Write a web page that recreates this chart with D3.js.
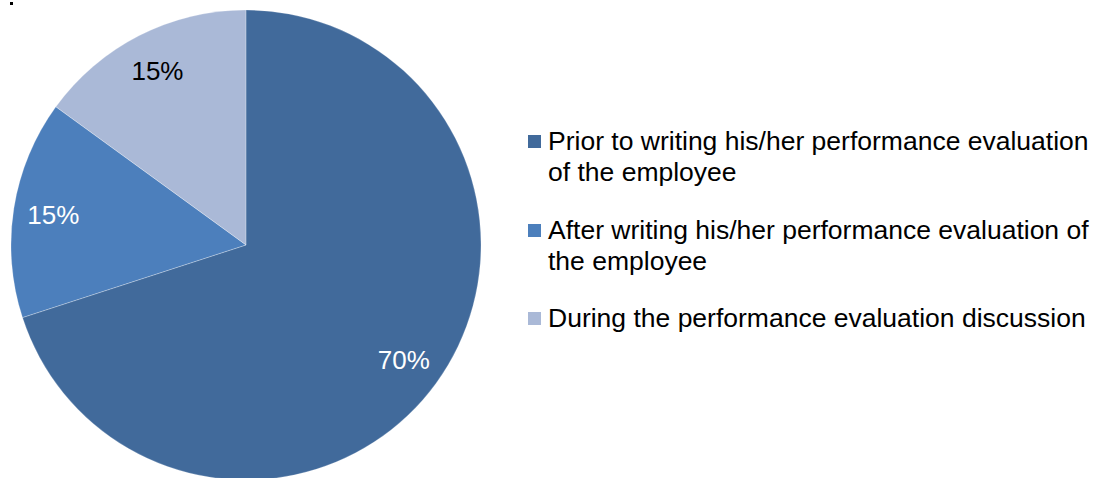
<!DOCTYPE html>
<html>
<head>
<meta charset="utf-8">
<script src="https://cdn.jsdelivr.net/npm/d3@7"></script>
<style>
  html, body { margin: 0; padding: 0; background: #fff; }
  svg { display: block; }
  text { font-family: "Liberation Sans", Arial, sans-serif; }
</style>
</head>
<body>
<svg id="chart" width="1095" height="478"></svg>
<script>
// Share of managers by when they consulted the employee's input
const categories = [
  "Prior to writing his/her performance evaluation of the employee",
  "After writing his/her performance evaluation of the employee",
  "During the performance evaluation discussion"
];
const legendLines = [
  ["Prior to writing his/her performance evaluation", "of the employee"],
  ["After writing his/her performance evaluation of", "the employee"],
  ["During the performance evaluation discussion"]
];
const values = [70, 15, 15];
const sliceColors = ["#416a9b", "#4c7fbc", "#aab9d7"];
const labelColors = ["#ffffff", "#ffffff", "#000000"];

const svg = d3.select("#chart");

// Pie geometry
const cx = 246, cy = 245, R = 235;

const color = d3.scaleOrdinal().domain(categories).range(sliceColors);

const pie = d3.pie().sort(null).value(d => d.value);
const data = categories.map((c, i) => ({ name: c, value: values[i], i }));
const arcs = pie(data);

const arc = d3.arc().innerRadius(0).outerRadius(R);
const labelArc = d3.arc().innerRadius(R * 0.83).outerRadius(R * 0.83);

// Remnant dot of the cropped heading above the plot
svg.append("rect")
  .attr("x", 10).attr("y", 2)
  .attr("width", 3).attr("height", 3)
  .attr("fill", "#000");

const g = svg.append("g").attr("transform", `translate(${cx},${cy})`);

g.selectAll("path.slice")
  .data(arcs)
  .join("path")
  .attr("class", "slice")
  .attr("d", arc)
  .attr("fill", d => color(d.data.name))
  .attr("stroke", "none");

// Thin light separators between slices
g.selectAll("path.sep")
  .data(arcs)
  .join("path")
  .attr("class", "sep")
  .attr("d", arc)
  .attr("fill", "none")
  .attr("stroke", "#ffffff")
  .attr("stroke-opacity", 0.35)
  .attr("stroke-width", 0.6);

g.selectAll("text.lbl")
  .data(arcs)
  .join("text")
  .attr("class", "lbl")
  .attr("transform", d => `translate(${labelArc.centroid(d)})`)
  .attr("text-anchor", "middle")
  .attr("dy", "0.35em")
  .attr("font-size", 26)
  .attr("fill", d => labelColors[d.data.i])
  .text(d => d3.format(".0%")(d.data.value / d3.sum(values)));

// Legend
const legendX = 528, sq = 13;
const itemBaselines = [150, 239, 327];
const lineH = 31;

const leg = svg.append("g");
categories.forEach((c, i) => {
  const y0 = itemBaselines[i];
  leg.append("rect")
    .attr("x", legendX)
    .attr("y", y0 - 15)
    .attr("width", sq)
    .attr("height", sq)
    .attr("fill", color(c));
  const t = leg.append("text")
    .attr("x", legendX + 20)
    .attr("y", y0)
    .attr("font-size", 26.5)
    .attr("fill", "#000");
  legendLines[i].forEach((line, k) => {
    t.append("tspan")
      .attr("x", legendX + 20)
      .attr("y", y0 + k * lineH)
      .text(line);
  });
});
</script>
</body>
</html>
